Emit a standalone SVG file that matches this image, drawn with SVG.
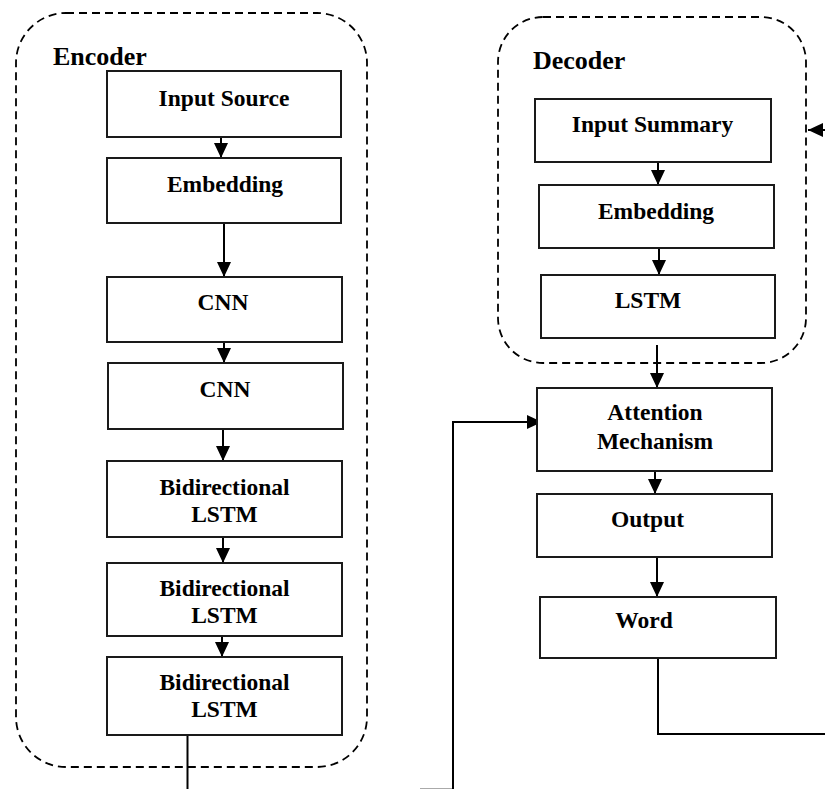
<svg xmlns="http://www.w3.org/2000/svg" width="825" height="789" viewBox="0 0 825 789">
<style>
.box{fill:#fff;stroke:#1a1a1a;stroke-width:2}
.grp{fill:none;stroke:#000;stroke-width:1.8;stroke-dasharray:8 5}
.t{font-family:"Liberation Serif","Times New Roman",serif;font-weight:bold;font-size:23.5px;fill:#000;text-anchor:middle}
.h{font-family:"Liberation Serif","Times New Roman",serif;font-weight:bold;font-size:26px;fill:#000}
.c{fill:none;stroke:#000;stroke-width:2}
</style>
<defs>
<marker id="ah" markerUnits="userSpaceOnUse" markerWidth="16" markerHeight="16" viewBox="0 0 16 16" refX="15" refY="8" orient="auto">
<path d="M0,1 L15,8 L0,15 Z" fill="#000"/>
</marker>
</defs>
<rect width="825" height="789" fill="#fff"/>
<g id="encoder-group">
<rect class="grp" x="16" y="13" width="351" height="754" rx="50" ry="50"/>
<text class="h" x="53" y="65">Encoder</text>
</g>
<g id="decoder-group">
<rect class="grp" x="498" y="17" width="308" height="346" rx="45" ry="45"/>
<text class="h" x="533" y="69">Decoder</text>
</g>
<g id="connectors">
<line class="c" x1="221" y1="137" x2="221" y2="158" marker-end="url(#ah)"/>
<line class="c" x1="224" y1="223" x2="224" y2="277" marker-end="url(#ah)"/>
<line class="c" x1="224" y1="342" x2="224" y2="363" marker-end="url(#ah)"/>
<line class="c" x1="223" y1="429" x2="223" y2="461" marker-end="url(#ah)"/>
<line class="c" x1="223" y1="537" x2="223" y2="563" marker-end="url(#ah)"/>
<line class="c" x1="222" y1="636" x2="222" y2="657" marker-end="url(#ah)"/>
<line class="c" x1="187.5" y1="735" x2="187.5" y2="792"/>
<line x1="420" y1="788.5" x2="453" y2="788.5" stroke="#aaa" stroke-width="1"/>
<polyline class="c" points="453,792 453,422 542,422" marker-end="url(#ah)"/>
<line class="c" x1="658" y1="162" x2="658" y2="185" marker-end="url(#ah)"/>
<line class="c" x1="659" y1="248" x2="659" y2="275" marker-end="url(#ah)"/>
<line class="c" x1="657" y1="345" x2="657" y2="388" marker-end="url(#ah)"/>
<line class="c" x1="655" y1="471" x2="655" y2="494" marker-end="url(#ah)"/>
<line class="c" x1="657" y1="557" x2="657" y2="597" marker-end="url(#ah)"/>
<polyline class="c" points="658,658 658,734 828,734"/>
<line class="c" x1="828" y1="130" x2="808" y2="130" marker-end="url(#ah)"/>
</g>
<g id="input-source"><rect class="box" x="107" y="71" width="234" height="66"/><text class="t" x="224" y="106">Input Source</text></g>
<g id="embedding-enc"><rect class="box" x="107" y="158" width="234" height="65"/><text class="t" x="225" y="192">Embedding</text></g>
<g id="cnn-1"><rect class="box" x="107" y="277" width="235" height="65"/><text class="t" x="223" y="310">CNN</text></g>
<g id="cnn-2"><rect class="box" x="108" y="363" width="235" height="66"/><text class="t" x="225" y="397">CNN</text></g>
<g id="bilstm-1"><rect class="box" x="107" y="461" width="235" height="76"/><text class="t" x="224.5" y="495">Bidirectional</text><text class="t" x="224.5" y="522">LSTM</text></g>
<g id="bilstm-2"><rect class="box" x="107" y="563" width="235" height="73"/><text class="t" x="224.5" y="596">Bidirectional</text><text class="t" x="224.5" y="623">LSTM</text></g>
<g id="bilstm-3"><rect class="box" x="107" y="657" width="235" height="78"/><text class="t" x="224.5" y="690">Bidirectional</text><text class="t" x="224.5" y="717">LSTM</text></g>
<g id="input-summary"><rect class="box" x="535" y="99" width="236" height="63"/><text class="t" x="652.5" y="132">Input Summary</text></g>
<g id="embedding-dec"><rect class="box" x="539" y="185" width="235" height="63"/><text class="t" x="656" y="219">Embedding</text></g>
<g id="lstm-dec"><rect class="box" x="541" y="275" width="234" height="63"/><text class="t" x="648" y="308">LSTM</text></g>
<g id="attention"><rect class="box" x="537" y="388" width="235" height="83"/><text class="t" x="655" y="420">Attention</text><text class="t" x="655" y="449">Mechanism</text></g>
<g id="output"><rect class="box" x="537" y="494" width="235" height="63"/><text class="t" x="647.5" y="527">Output</text></g>
<g id="word"><rect class="box" x="540" y="597" width="236" height="61"/><text class="t" x="644" y="628">Word</text></g>
</svg>
